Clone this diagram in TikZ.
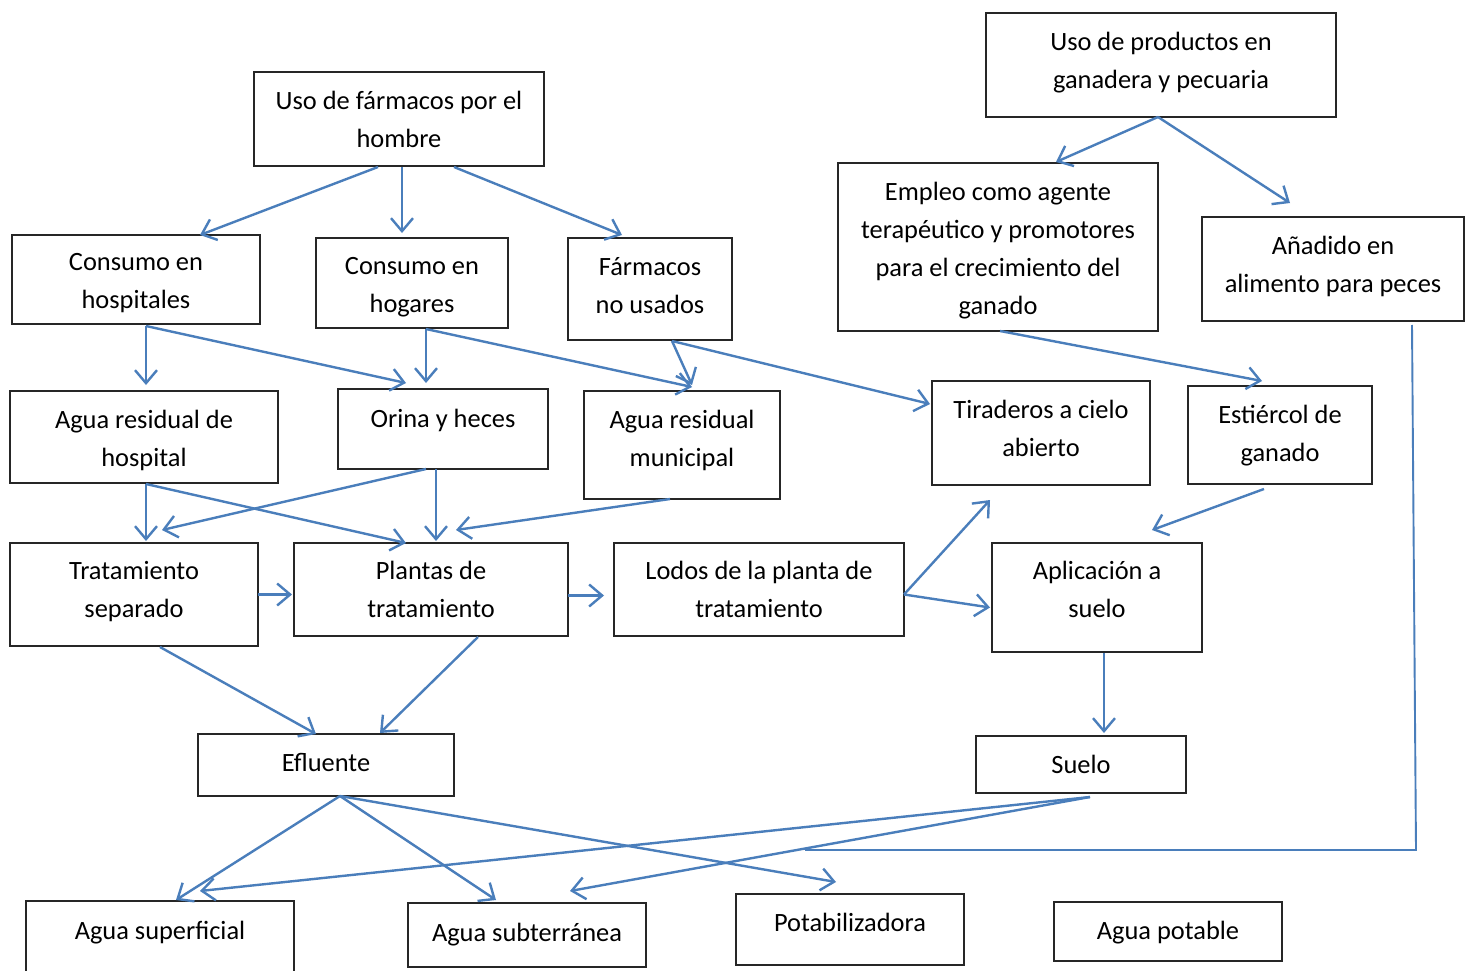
\documentclass[tikz,border=0pt]{standalone}
\usepackage{fontspec}
\setmainfont{Carlito}
\usetikzlibrary{arrows.meta,calc}
\definecolor{lineblue}{RGB}{74,126,187}
% multi-line box
\newcommand\mybox[7]{%
  \node[box, minimum width={(#4-#2)*1pt}, minimum height={(#5-#3)*1pt}] (#1) at (#2,#3) {};
  \node[lbl] (#1t) at ({(#2+#4)/2},{#6-15.6}) {#7};
}
% single-line box
\newcommand\myboxs[7]{%
  \node[box, minimum width={(#4-#2)*1pt}, minimum height={(#5-#3)*1pt}] (#1) at (#2,#3) {};
  \node[lbl] (#1t) at ({(#2+#4)/2},{#6-24.6}) {#7};
}
\begin{document}
\begin{tikzpicture}[x=1pt,y=-1pt,
  box/.style={draw=black!85, line width=1.3pt, inner sep=0pt, outer sep=0pt, anchor=north west},
  lbl/.style={font=\fontsize{26.4}{38}\selectfont, align=center, inner sep=0pt, anchor=north, execute at begin node=\strut},
  link/.style={draw=lineblue, line width=2.4pt},
  conn/.style={link, -{Straight Barb[length=13pt,width=22pt]}}]
\fill[white] (0,0) rectangle (1468,971);
\clip (0,0) rectangle (1468,971);

\mybox{A}{254}{72}{544}{166}{107}{Uso de fármacos por el\\hombre}
\mybox{E}{986}{13}{1336}{117}{48}{Uso de productos en\\ganadera y pecuaria}
\mybox{B}{12}{235}{260}{324}{269}{Consumo en\\hospitales}
\mybox{C}{316}{238}{508}{328}{273}{Consumo en\\hogares}
\mybox{D}{568}{238}{732}{340}{273}{Fármacos\\no usados}
\mybox{F}{838}{163}{1158}{331}{198}{Empleo como agente\\terapéutico y promotores\\para el crecimiento del\\ganado}
\mybox{G}{1202}{217}{1464}{321}{252}{Añadido en\\alimento para peces}
\mybox{H}{10}{391}{278}{483}{426}{Agua residual de\\hospital}
\myboxs{I}{338}{389}{548}{469}{425}{Orina y heces}
\mybox{J}{584}{391}{780}{499}{426}{Agua residual\\municipal}
\mybox{K}{932}{381}{1150}{485}{416}{Tiraderos a cielo\\abierto}
\mybox{L}{1188}{386}{1372}{484}{421}{Estiércol de\\ganado}
\mybox{M}{10}{543}{258}{646}{577}{Tratamiento\\separado}
\mybox{N}{294}{543}{568}{636}{577}{Plantas de\\tratamiento}
\mybox{O}{614}{543}{904}{636}{577}{Lodos de la planta de\\tratamiento}
\mybox{P}{992}{543}{1202}{652}{577}{Aplicación a\\suelo}
\myboxs{Q}{198}{734}{454}{796}{769}{Efluente}
\myboxs{R}{976}{736}{1186}{793}{771}{Suelo}
\myboxs{S}{26}{901}{294}{980}{937}{Agua superficial}
\myboxs{T}{408}{903}{646}{967}{939}{Agua subterránea}
\myboxs{U}{736}{894}{964}{965}{929}{Potabilizadora}
\myboxs{V}{1054}{902}{1282}{961}{937}{Agua potable}

% from A
\draw[conn] ($(A.south)+(-21,1)$) -- ($(B.north)+(64,0)$);
\draw[conn] ($(A.south)+(3,1)$) -- ($(C.north)+(-10,-5)$);
\draw[conn] ($(A.south)+(55,1)$) -- ($(D.north)+(-28,-3)$);
% from B
\draw[conn] ($(B.south)+(10,2)$) -- ($(H.north)+(2,-6)$);
\draw[conn] ($(B.south)+(10,2)$) -- ($(I.north)+(-37,-6)$);
% from C
\draw[conn] ($(C.south)+(14,1)$) -- ($(I.north)+(-17,-6)$);
\draw[conn] ($(C.south)+(14,1)$) -- ($(J.north)+(10,-4)$);
% from D
\draw[conn] ($(D.south)+(22,1)$) -- ($(J.north)+(10,-6)$);
\draw[conn] ($(D.south)+(22,1)$) -- ($(K.west)+(-2,-29)$);
% from E
\draw[conn] ($(E.south)+(-3,0)$) -- ($(F.north)+(58,-1)$);
\draw[conn] ($(E.south)+(-3,0)$) -- ($(G.north)+(-43,-14)$);
% from F
\draw[conn] ($(F.south)+(2,0)$) -- ($(L.north)+(-18,-5)$);
% from G
\coordinate (gend) at (805,850);
\draw[link, line width=1.9pt] ($(G.south)+(79,4)$) -- (1416,850) -- (gend);
% from H
\draw[conn] ($(H.south)+(2,1)$) -- ($(M.north)+(12,-2)$);
\draw[conn] ($(H.south)+(2,1)$) -- ($(N.north)+(-25,0)$);
% from I
\draw[conn] ($(I.south)+(-17,0)$) -- ($(M.north)+(28,-13)$);
\draw[conn] ($(I.south)+(-7,0)$) -- ($(N.north)+(5,-2)$);
% from J
\draw[conn] ($(J.south)+(-12,0)$) -- ($(N.north)+(25,-13)$);
% horizontal chain
\draw[conn] (M.east) -- ($(N.west)+(-2,5)$);
\draw[conn] ($(N.east)+(0,6)$) -- ($(O.west)+(-10,6)$);
% from O
\draw[conn] ($(O.east)+(0,5)$) -- ($(K.south)+(-51,15)$);
\draw[conn] ($(O.east)+(0,5)$) -- ($(P.west)+(-2,10)$);
% from L
\draw[conn] ($(L.south)+(-16,5)$) -- ($(P.north)+(55,-13)$);
% from P
\draw[conn] ($(P.south)+(7,1)$) -- ($(R.north)+(23,-3)$);
% to Q
\draw[conn] ($(M.south)+(26,1)$) -- ($(Q.north)+(-10,0)$);
\draw[conn] ($(N.south)+(47,1)$) -- ($(Q.north)+(54,-1)$);
% from Q
\draw[conn] ($(Q.south)+(14,0)$) -- ($(S.north)+(16,-1)$);
\draw[conn] ($(Q.south)+(14,0)$) -- ($(T.north)+(-31,-3)$);
\draw[conn] ($(Q.south)+(14,0)$) -- ($(U.north)+(-14,-12)$);
% from R
\draw[conn] ($(R.south)+(9,4)$) -- ($(S.north)+(40,-10)$);
\draw[conn] ($(R.south)+(9,4)$) -- ($(T.north)+(43,-12)$);
\end{tikzpicture}
\end{document}
